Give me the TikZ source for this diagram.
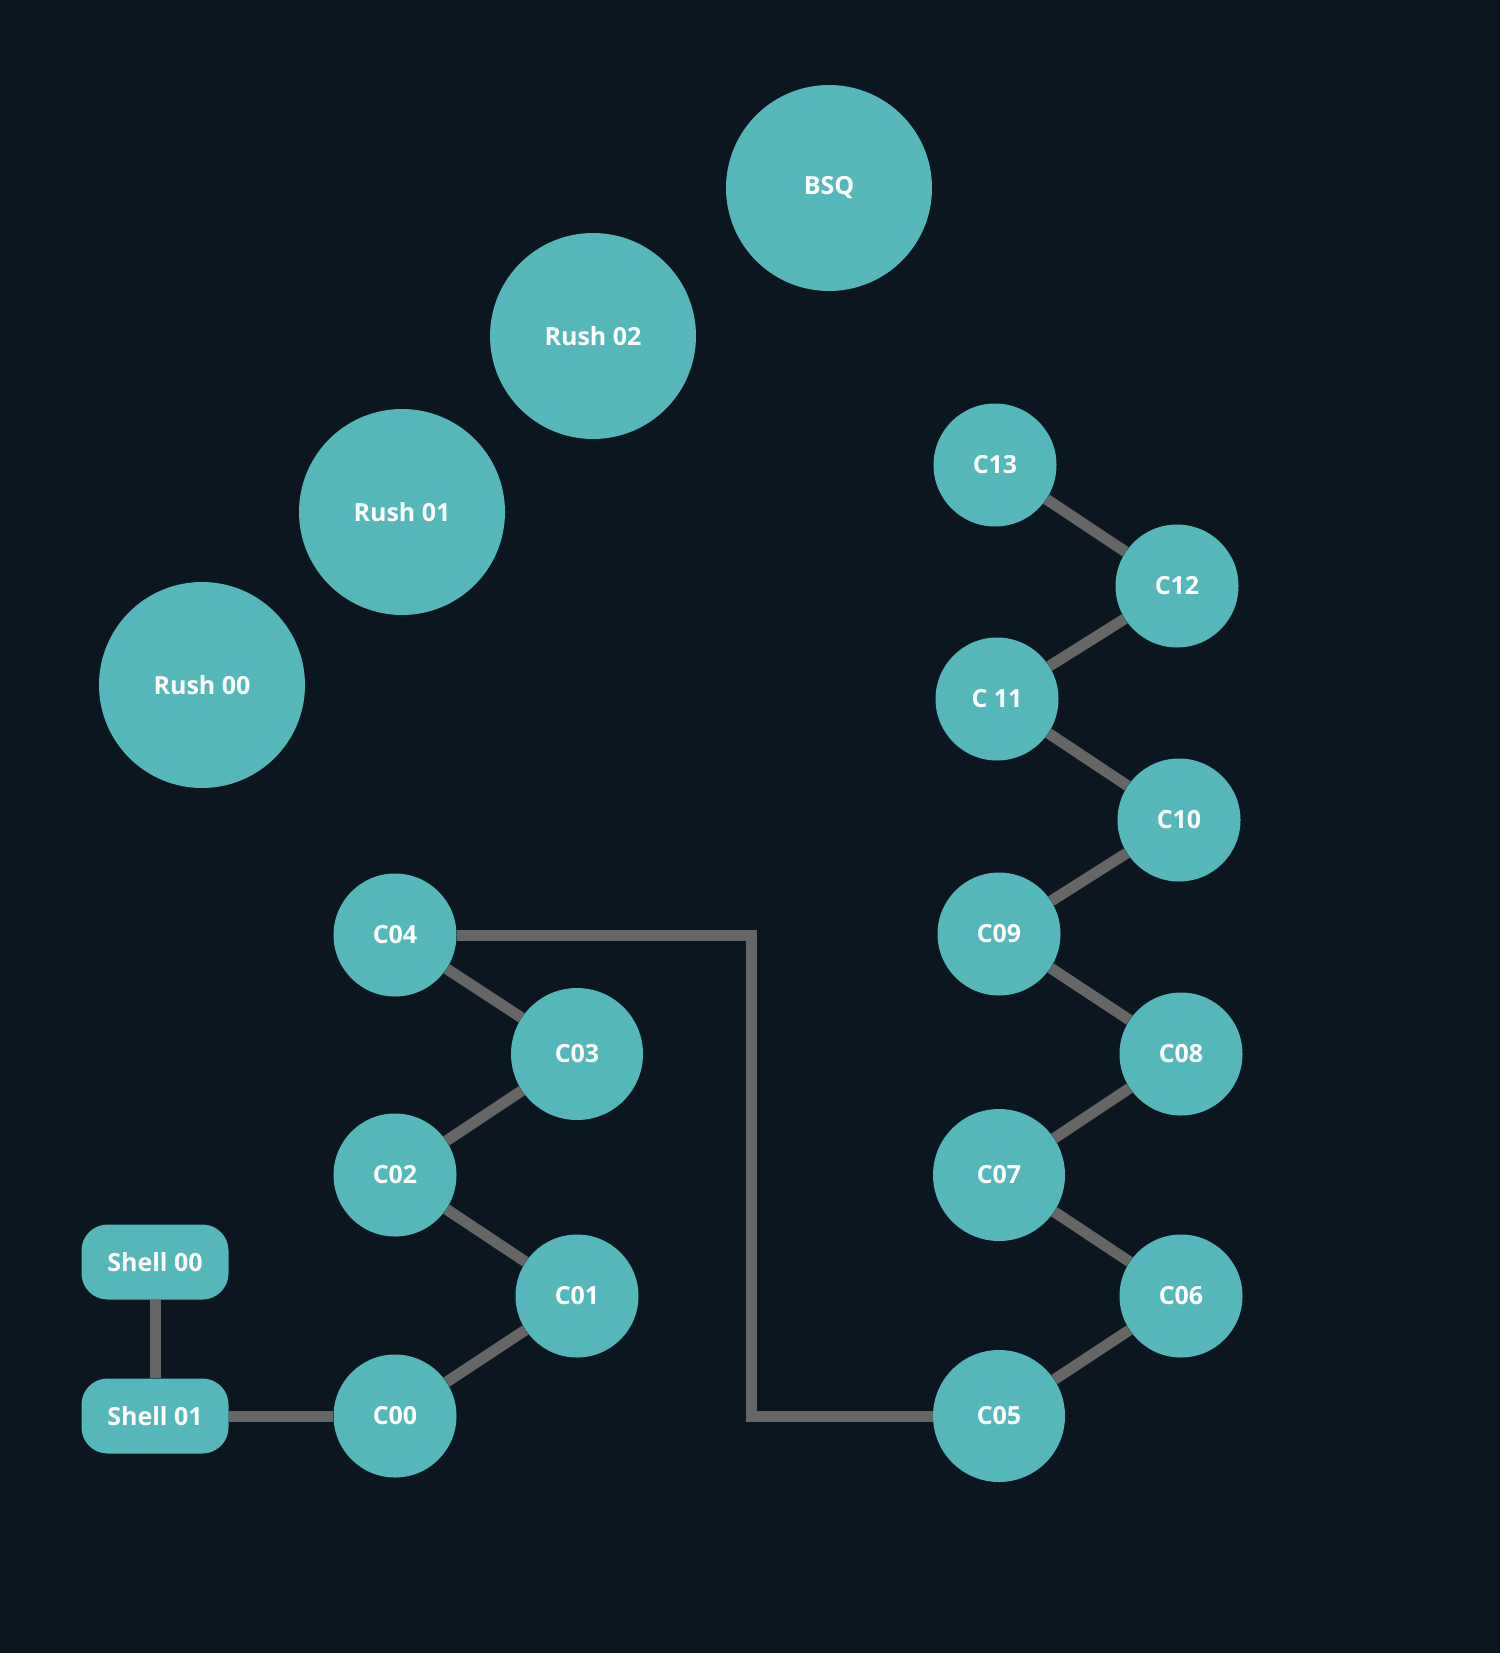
\documentclass[tikz,border=0pt]{standalone}
\usepackage{fontspec}
\setmainfont{Open Sans}
\definecolor{bgdark}{HTML}{0B1620}
\definecolor{nodeteal}{HTML}{55B7B9}
\definecolor{linkgrey}{HTML}{666666}

\begin{document}
\begin{tikzpicture}[x=1pt,y=-1pt,
every node/.style={text=white,font=\bfseries\fontsize{25}{29}\selectfont},
bignode/.style={circle,fill=nodeteal,minimum size=206pt,inner sep=0pt},
cnode/.style={circle,fill=nodeteal,minimum size=123pt,inner sep=0pt},
cwide/.style={circle,fill=nodeteal,minimum size=132pt,inner sep=0pt},
shellnode/.style={rectangle,rounded corners=26pt,fill=nodeteal,minimum width=147pt,minimum height=75pt,inner sep=0pt},
link/.style={draw=linkgrey,line width=11pt}]
\fill[bgdark] (0,0) rectangle (1500,1653);
\useasboundingbox (0,0) rectangle (1500,1653);

% projects at the top
\node[bignode](bsq) at (829,188) {BSQ};
\node[bignode](rush02) at (593,336) {Rush 02};
\node[bignode](rush01) at (402,512) {Rush 01};
\node[bignode](rush00) at (202,685) {Rush 00};

% shells
\node[shellnode](shell00) at (155,1262) {Shell 00};
\node[shellnode](shell01) at (155,1416) {Shell 01};

% left chain
\node[cnode](c00) at (395,1416) {C00};
\node[cnode](c01) at (577,1296) {C01};
\node[cnode](c02) at (395,1175) {C02};
\node[cwide](c03) at (577,1054) {C03};
\node[cnode](c04) at (395,935) {C04};

% right chain
\node[cwide](c05) at (999,1416) {C05};
\node[cnode](c06) at (1181,1296) {C06};
\node[cwide](c07) at (999,1175) {C07};
\node[cnode](c08) at (1181,1054) {C08};
\node[cnode](c09) at (999,934) {C09};
\node[cnode](c10) at (1179,820) {C10};
\node[cnode](c11) at (997,699) {C 11};
\node[cnode](c12) at (1177,586) {C12};
\node[cnode](c13) at (995,465) {C13};

\coordinate(bend) at (751.5,1100);

%links between the nodes
\draw[link] (shell00) -- (shell01);
\draw[link] (shell01) -- (c00);
\foreach \a/\b in {c00/c01,c01/c02,c02/c03,c03/c04,c05/c06,c06/c07,c07/c08,c08/c09,c09/c10,c10/c11,c11/c12,c12/c13}
	\draw[link] (\a) -- (\b);
\draw[link] (c04.east) -| (bend) |- (c05.west);
\end{tikzpicture}
\end{document}
